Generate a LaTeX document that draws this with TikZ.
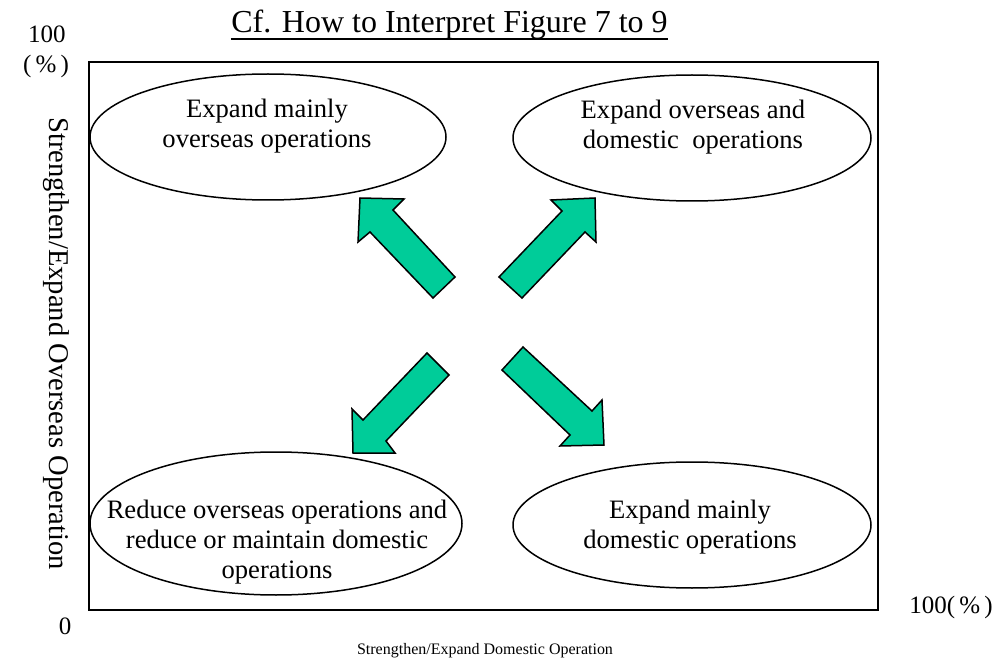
\documentclass[tikz,border=0pt]{standalone}
\usepackage{fontspec}
\setmainfont{Liberation Serif}
\usetikzlibrary{shapes.geometric}
\definecolor{arrowgreen}{RGB}{0,204,153}
\begin{document}
\begin{tikzpicture}[x=0.5pt,y=-0.5pt,
  frame/.style={line width=1pt},
  bubble/.style={ellipse, draw, line width=0.75pt, inner sep=0pt},
  bubbletext/.style={anchor=base, inner sep=0pt, align=center,
    font=\fontsize{13.3}{15}\selectfont},
  blockarrow/.style={fill=arrowgreen, draw=black, line width=0.75pt, line join=miter},
  ticklabel/.style={anchor=base, inner sep=0pt, font=\fontsize{12.5}{15}\selectfont},
  axislabel/.style={anchor=base, inner sep=0pt}]
\useasboundingbox (0,0) rectangle (1008,658);

% title
\node[anchor=base, inner sep=0pt, font=\fontsize{16}{18}\selectfont] (title) at (449.5,33)
  {Cf. How to Interpret Figure 7 to 9};
\draw[line width=0.75pt] ([yshift=-3pt]title.base west) -- ([yshift=-3pt]title.base east);

% plot frame
\draw[frame] (89,62) rectangle (878,610);

% axis values
\node[ticklabel] (ymax) at (47,43) {100};
\node[ticklabel] (yunit) at (46,73) {(\,\%\,)};
\node[ticklabel] (origin) at (65,634) {0};
\node[ticklabel, anchor=base west] (xmax) at (909,613) {100(\,\%\,)};

% axis titles
\node[axislabel, rotate=-90, font=\fontsize{14.3}{16}\selectfont] (ylab) at (49,343.5)
  {Strengthen/Expand Overseas Operation};
\node[axislabel, font=\fontsize{8}{10}\selectfont] (xlab) at (485,654)
  {Strengthen/Expand Domestic Operation};

% quadrant ellipses
\node[bubble, minimum width=178pt, minimum height=63pt] (tl) at (268,137) {};
\node[bubble, minimum width=179pt, minimum height=63pt] (tr) at (692,138) {};
\node[bubble, minimum width=186pt, minimum height=71.5pt] (bl) at (276,523.5) {};
\node[bubble, minimum width=179pt, minimum height=63pt] (br) at (692,525) {};

% ellipse captions (positioned by the baseline of their last line)
\node[bubbletext] (tltext) at (267,148) {Expand mainly\\overseas operations};
\node[bubbletext] (trtext) at (693,149) {Expand overseas and\\domestic\ \ operations};
\node[bubbletext] (bltext) at (277,578) {Reduce overseas operations and\\reduce or maintain domestic\\operations};
\node[bubbletext] (brtext) at (690,548) {Expand mainly\\domestic operations};

% block arrows
\draw[blockarrow] (360,198) -- (404,199) -- (393,210) -- (455,277) -- (433,298)
  -- (370,232) -- (358,242) -- cycle;
\draw[blockarrow] (595,198) -- (596,242) -- (585,232) -- (522,298) -- (499,277)
  -- (562,211) -- (551,200) -- cycle;
\draw[blockarrow] (353,453) -- (352,409) -- (363,420) -- (427,353) -- (449,375)
  -- (386,441) -- (395,453) -- cycle;
\draw[blockarrow] (604,445) -- (560,446) -- (570,435) -- (502,370) -- (523,347)
  -- (592,411) -- (602,400) -- cycle;
\end{tikzpicture}
\end{document}
